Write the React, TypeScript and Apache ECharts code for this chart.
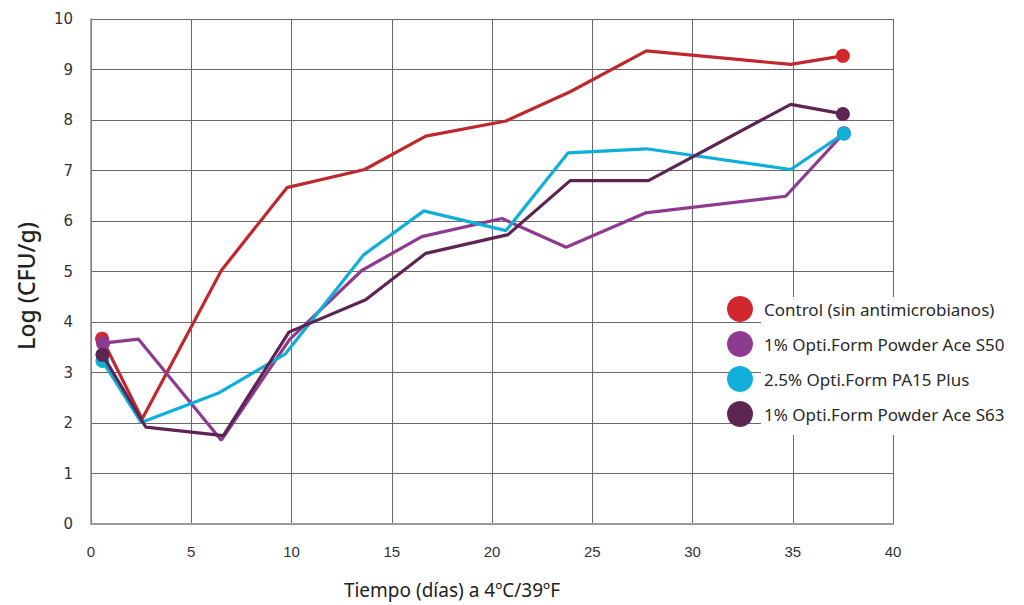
import React, { useEffect, useRef } from "react";
import * as echarts from "echarts";

const seriesNames = [
  "Control (sin antimicrobianos)",
  "1% Opti.Form Powder Ace S50",
  "2.5% Opti.Form PA15 Plus",
  "1% Opti.Form Powder Ace S63",
];
const lineColors = ["#BF282E", "#8E3A91", "#0FAFD9", "#5C2552"];
const markerColors = ["#D1272E", "#8E3A91", "#0FAFD9", "#5C2552"];

const controlX = [0.55, 2.55, 6.5, 9.77, 13.65, 16.7, 20.7, 23.9, 27.7, 34.9, 37.5];
const controlY = [3.67, 2.08, 5.02, 6.66, 7.02, 7.68, 7.98, 8.56, 9.37, 9.1, 9.27];

const s50X = [0.6, 2.37, 6.5, 9.9, 13.5, 16.5, 20.5, 23.7, 27.65, 34.65, 37.55];
const s50Y = [3.58, 3.66, 1.66, 3.65, 5.02, 5.69, 6.05, 5.48, 6.16, 6.49, 7.74];

const pa15X = [0.57, 2.5, 6.4, 9.7, 13.6, 16.6, 20.7, 23.8, 27.7, 34.9, 37.55];
const pa15Y = [3.23, 2.01, 2.6, 3.37, 5.33, 6.2, 5.81, 7.35, 7.43, 7.02, 7.73];

const s63X = [0.57, 2.73, 6.6, 9.87, 13.7, 16.7, 20.8, 23.9, 27.8, 34.9, 37.5];
const s63Y = [3.35, 1.92, 1.75, 3.8, 4.44, 5.36, 5.73, 6.8, 6.8, 8.31, 8.12];

const xTicks = [0, 5, 10, 15, 20, 25, 30, 35, 40];
const yTicks = [0, 1, 2, 3, 4, 5, 6, 7, 8, 9, 10];

const xTitle = "Tiempo (días) a 4ºC/39ºF";
const yTitle = "Log (CFU/g)";

const allX = [controlX, s50X, pa15X, s63X];
const allY = [controlY, s50Y, pa15Y, s63Y];

export default function App() {
  const ref = useRef<HTMLDivElement>(null);
  useEffect(() => {
    document.body.style.margin = "0";
    const chart = echarts.init(ref.current!, null, { renderer: "svg" });
    const series = seriesNames.map((name, i) => {
      const xs = allX[i];
      const ys = allY[i];
      return {
        name,
        type: "line",
        z: 2 + i,
        color: markerColors[i],
        lineStyle: { color: lineColors[i], width: 3.2 },
        itemStyle: { color: markerColors[i] },
        symbolSize: 14,
        showAllSymbol: true,
        data: xs.map((x, k) => ({
          value: [x, ys[k]],
          symbol: k === 0 || k === xs.length - 1 ? "circle" : "none",
        })),
      };
    });
    chart.setOption({
      animation: false,
      backgroundColor: "#ffffff",
      grid: { left: 91, right: 131, top: 19, bottom: 81, containLabel: false },
      xAxis: {
        type: "value",
        min: xTicks[0],
        max: xTicks[xTicks.length - 1],
        interval: 5,
        axisLine: { show: true, onZero: false, lineStyle: { color: "#9a9a9a", width: 2 } },
        axisTick: { show: false },
        axisLabel: {
          margin: 20,
          color: "#333333",
          fontSize: 15,
          fontFamily: "'Liberation Sans Narrow', 'Liberation Sans', sans-serif",
        },
        splitLine: { show: true, lineStyle: { color: "#6a6a6a", width: 1 } },
      },
      yAxis: {
        type: "value",
        min: yTicks[0],
        max: yTicks[yTicks.length - 1],
        interval: 1,
        axisLine: { show: true, lineStyle: { color: "#8a8a8a", width: 1.5 } },
        axisTick: { show: false },
        axisLabel: {
          margin: 18,
          color: "#333333",
          fontSize: 15,
          fontFamily: "'DejaVu Sans', sans-serif",
          showMaxLabel: true,
        },
        splitLine: {
          show: true,
          lineStyle: { color: "#6a6a6a", width: 1 },
        },
      },
      legend: {
        show: true,
        orient: "vertical",
        left: 722,
        top: 291,
        icon: "circle",
        itemWidth: 26,
        itemHeight: 26,
        itemGap: 9,
        data: seriesNames,
        textStyle: {
          color: "#2a2a2a",
          fontSize: 17,
          fontFamily: "'Noto Sans', sans-serif",
          padding: [0, 0, 0, 6],
        },
      },
      graphic: [
        {
          type: "rect",
          z: 1,
          shape: { x: 761, y: 297, width: 140, height: 138 },
          style: { fill: "#ffffff" },
        },
        {
          type: "rect",
          z: 1,
          shape: { x: 90, y: 0, width: 810, height: 18 },
          style: { fill: "#ffffff" },
        },
        {
          type: "text",
          x: 452,
          y: 590,
          style: {
            text: xTitle,
            fontSize: 19,
            fill: "#222222",
            fontFamily: "'Noto Sans', sans-serif",
            align: "center",
            verticalAlign: "middle",
          },
        },
        {
          type: "text",
          x: 26,
          y: 286,
          rotation: Math.PI / 2,
          style: {
            text: yTitle,
            fontSize: 23,
            fontWeight: 500,
            fill: "#222222",
            fontFamily: "'Noto Sans', sans-serif",
            align: "center",
            verticalAlign: "middle",
          },
        },
      ],
      series,
    });
    return () => chart.dispose();
  }, []);
  return <div ref={ref} style={{ width: 1024, height: 605 }} />;
}
